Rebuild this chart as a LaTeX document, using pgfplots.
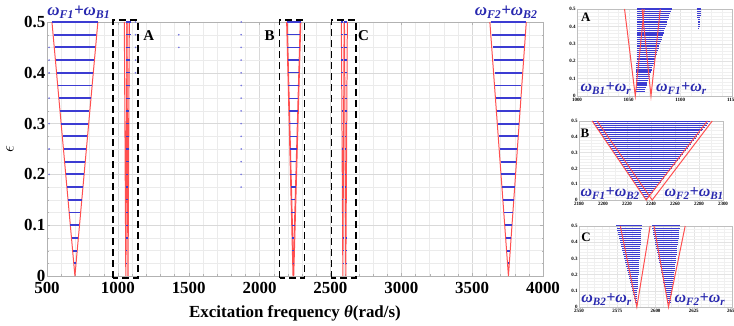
\documentclass[border=0pt]{standalone}
\usepackage{pgfplots}
\pgfplotsset{compat=1.18}
\usepackage{pgfplotstable}
\usepackage{fontspec}
\setmainfont{Liberation Serif}
\definecolor{myblue}{RGB}{60,60,210}
\definecolor{myred}{RGB}{255,80,80}
\definecolor{labblue}{RGB}{40,40,175}

\pgfplotstableread{
y x h
0.5 697 160
0.475 697 150
0.45 697 142
0.425 697 134
0.4 697 126
0.375 697 118
0.35 697 110
0.325 697 102
0.3 697 95
0.275 697 87
0.25 697 79
0.225 697 71
0.2 697 63
0.175 697 55
0.15 697 47
0.125 697 39
0.1 697 32
0.075 697 24
0.05 697 16
0.025 697 8
}\tabTone

\pgfplotstableread{
y x h
0.5 3756 125
0.475 3756 116
0.45 3756 110
0.425 3756 104
0.4 3756 98
0.375 3756 92
0.35 3756 86
0.325 3756 80
0.3 3756 74
0.275 3756 67
0.25 3756 61
0.225 3756 55
0.2 3756 49
0.175 3756 43
0.15 3756 37
0.125 3756 31
0.1 3756 25
0.075 3756 18
0.05 3756 12
0.025 3756 6
}\tabTtwo

\pgfplotstableread{
y x h
0.5 1075.0 16.5
0.4875 1074.64 16.18
0.475 1074.28 15.85
0.4625 1073.91 15.53
0.45 1073.55 15.2
0.4375 1073.19 14.88
0.425 1072.83 14.55
0.4125 1072.46 14.23
0.4 1072.1 13.9
0.3875 1071.74 13.58
0.375 1071.38 13.25
0.3625 1071.01 12.93
0.35 1070.65 12.6
0.3375 1070.29 12.28
0.325 1069.93 11.95
0.3125 1069.56 11.63
0.3 1069.2 11.3
0.2875 1068.84 10.98
0.275 1068.48 10.65
0.2625 1068.11 10.33
0.25 1067.75 10.0
0.2375 1067.39 9.68
0.225 1067.03 9.35
0.2125 1066.66 9.03
0.2 1066.3 8.7
0.1875 1065.94 8.38
0.175 1065.58 8.05
0.1625 1065.21 7.73
0.15 1064.85 7.4
0.1375 1064.49 7.08
0.125 1064.13 6.75
0.1125 1063.76 6.43
0.1 1063.4 6.1
0.0875 1063.04 5.78
0.075 1062.68 5.45
0.0625 1062.31 5.13
0.05 1061.95 4.8
0.0375 1061.59 4.48
0.025 1061.23 4.15
}\tabA

\pgfplotstableread{
y x h
0.5 1118 2.2
0.4875 1118 2.0
0.475 1118 1.8
0.4625 1118 1.6
0.45 1118 1.4
0.4375 1118 1.2
0.425 1118 1.0
0.4125 1118 0.8
0.4 1118 0.6
0.3875 1118 0.5
}\tabAdots

\pgfplotstableread{
y x h
0.5 2240 49
0.4875 2239.9 47.78
0.475 2239.8 46.55
0.4625 2239.7 45.33
0.45 2239.6 44.1
0.4375 2239.5 42.88
0.425 2239.4 41.65
0.4125 2239.3 40.43
0.4 2239.2 39.2
0.3875 2239.1 37.98
0.375 2239.0 36.75
0.3625 2238.9 35.53
0.35 2238.8 34.3
0.3375 2238.7 33.08
0.325 2238.6 31.85
0.3125 2238.5 30.63
0.3 2238.4 29.4
0.2875 2238.3 28.18
0.275 2238.2 26.95
0.2625 2238.1 25.73
0.25 2238.0 24.5
0.2375 2237.9 23.28
0.225 2237.8 22.05
0.2125 2237.7 20.83
0.2 2237.6 19.6
0.1875 2237.5 18.38
0.175 2237.4 17.15
0.1625 2237.3 15.93
0.15 2237.2 14.7
0.1375 2237.1 13.48
0.125 2237.0 12.25
0.1125 2236.9 11.03
0.1 2236.8 9.8
0.0875 2236.7 8.58
0.075 2236.6 7.35
0.0625 2236.5 6.13
0.05 2236.4 4.9
0.0375 2236.3 3.68
0.025 2236.2 2.45
0.0125 2236.1 1.23
}\tabB

\pgfplotstableread{
y x h
0.5 2582.75 8.25
0.4875 2582.87 8.04
0.475 2582.99 7.84
0.4625 2583.11 7.63
0.45 2583.23 7.43
0.4375 2583.34 7.22
0.425 2583.46 7.01
0.4125 2583.58 6.81
0.4 2583.7 6.6
0.3875 2583.82 6.39
0.375 2583.94 6.19
0.3625 2584.06 5.98
0.35 2584.18 5.78
0.3375 2584.29 5.57
0.325 2584.41 5.36
0.3125 2584.53 5.16
0.3 2584.65 4.95
0.2875 2584.77 4.74
0.275 2584.89 4.54
0.2625 2585.01 4.33
0.25 2585.13 4.13
0.2375 2585.24 3.92
0.225 2585.36 3.71
0.2125 2585.48 3.51
0.2 2585.6 3.3
0.1875 2585.72 3.09
0.175 2585.84 2.89
0.1625 2585.96 2.68
0.15 2586.08 2.48
0.1375 2586.19 2.27
0.125 2586.31 2.06
0.1125 2586.43 1.86
0.1 2586.55 1.65
0.0875 2586.67 1.44
0.075 2586.79 1.24
0.0625 2586.91 1.03
0.05 2587.03 0.83
0.0375 2587.14 0.62
0.025 2587.26 0.41
}\tabCone

\pgfplotstableread{
y x h
0.5 2606.75 9.25
0.4875 2606.81 9.03
0.475 2606.86 8.81
0.4625 2606.92 8.59
0.45 2606.98 8.38
0.4375 2607.03 8.16
0.425 2607.09 7.94
0.4125 2607.14 7.72
0.4 2607.2 7.5
0.3875 2607.26 7.28
0.375 2607.31 7.06
0.3625 2607.37 6.84
0.35 2607.43 6.63
0.3375 2607.48 6.41
0.325 2607.54 6.19
0.3125 2607.59 5.97
0.3 2607.65 5.75
0.2875 2607.71 5.53
0.275 2607.76 5.31
0.2625 2607.82 5.09
0.25 2607.88 4.88
0.2375 2607.93 4.66
0.225 2607.99 4.44
0.2125 2608.04 4.22
0.2 2608.1 4.0
0.1875 2608.16 3.78
0.175 2608.21 3.56
0.1625 2608.27 3.34
0.15 2608.33 3.13
0.1375 2608.38 2.91
0.125 2608.44 2.69
0.1125 2608.49 2.47
0.1 2608.55 2.25
0.0875 2608.61 2.03
0.075 2608.66 1.81
0.0625 2608.72 1.59
0.05 2608.78 1.38
0.0375 2608.83 1.16
0.025 2608.89 0.94
}\tabCtwo

\pgfplotsset{
  hbars/.style={myblue, line width=#1, mark=none, forget plot,
    quiver={u=2*\thisrow{h}, v=0}, -},
  redl/.style={myred, line width=#1, mark=none, forget plot},
  inset/.style={scale only axis, anchor=south west, clip=false,
    ymin=0, ymax=0.5, ytick={0,0.1,0.2,0.3,0.4,0.5},
    grid=both, major grid style={gray!22, line width=0.3pt},
    minor grid style={gray!12, line width=0.25pt},
    axis line style={gray!50}, tick style={draw=none},
    minor y tick num=4,
    /pgf/number format/assume math mode=true, /pgf/number format/1000 sep={},
    ticklabel style={font=\bfseries\fontsize{5}{6}\selectfont},
    yticklabel style={inner sep=1.2bp}, xticklabel style={inner sep=2bp}},
}
\tikzset{
  ilab/.style={labblue, anchor=base, inner sep=0pt, font=\bfseries\itshape\fontsize{16}{17}\selectfont},
}

\begin{document}
\begin{tikzpicture}
\path[use as bounding box] (0,0) rectangle (734bp,326bp);
\begin{axis}[
  at={(47bp,50bp)}, anchor=south west, scale only axis,
  width=496bp, height=254bp, clip=false,
  xmin=500, xmax=4000, ymin=0, ymax=0.5,
  xtick={500,1000,1500,2000,2500,3000,3500,4000},
  ytick={0,0.1,0.2,0.3,0.4,0.5},
  minor x tick num=4, minor y tick num=3,
  grid=both, major grid style={gray!30, line width=0.4pt},
  minor grid style={gray!16, line width=0.3pt},
  axis line style={gray!60}, tick style={gray!60}, tick align=inside,
  major tick length=3bp, minor tick length=1.5bp,
  /pgf/number format/assume math mode=true, /pgf/number format/1000 sep={},
  ticklabel style={font=\bfseries\fontsize{17}{18}\selectfont},
  yticklabel style={inner sep=1.5bp}, xticklabel style={inner sep=6bp},
  xlabel={Excitation frequency {\itshape θ}(rad/s)},
  xlabel style={at={(axis description cs:0.5,0)}, anchor=base, yshift=-41bp,
    font=\bfseries\fontsize{17}{18}\selectfont},
  ylabel={$\epsilon$},
  ylabel style={at={(axis description cs:-0.0746,0.5)}, anchor=center,
    font=\fontsize{17}{18}\selectfont},
]
% red boundaries
\addplot[redl=1pt] coordinates {(535,0.5) (697,0) (859,0.5)};
\addplot[redl=1pt] coordinates {(3625,0.5) (3756,0) (3882,0.5)};
\addplot[redl=1.1pt] coordinates {(1046,0.5) (1056.4,0) (1065,0.5)};
\addplot[redl=1.1pt] coordinates {(1063,0.5) (1071.6,0) (1080.6,0.5)};
\addplot[redl=1pt] coordinates {(2191,0.5) (2236,0) (2287,0.5)};
\addplot[redl=1pt] coordinates {(2195,0.5) (2241,0) (2291,0.5)};
\addplot[redl=1pt] coordinates {(2577,0.5) (2587.8,0) (2596.5,0.5)};
\addplot[redl=1pt] coordinates {(2599,0.5) (2608.5,0) (2619.4,0.5)};
% blue instability rows
\addplot[hbars=2pt] table[x expr=\thisrow{x}-\thisrow{h}, y=y] {\tabTone};
\addplot[hbars=2pt] table[x expr=\thisrow{x}-\thisrow{h}, y=y] {\tabTtwo};
\addplot[each nth point=2, hbars=1.4pt] table[x expr=\thisrow{x}-\thisrow{h}, y=y] {\tabA};
\addplot[each nth point=2, hbars=1.4pt] table[x expr=\thisrow{x}-\thisrow{h}, y=y] {\tabB};
\addplot[each nth point=2, hbars=1.4pt] table[x expr=\thisrow{x}-\thisrow{h}, y=y] {\tabCone};
\addplot[each nth point=2, hbars=1.4pt] table[x expr=\thisrow{x}-\thisrow{h}, y=y] {\tabCtwo};
% scattered small points
\addplot[only marks, mark=*, mark size=0.6pt, myblue!70, forget plot] coordinates {
(1870,0.5) (1870,0.475) (1870,0.45) (1870,0.425) (1870,0.4) (1870,0.375)
(1870,0.35) (1870,0.325) (1870,0.3) (1870,0.275) (1870,0.25) (1870,0.225)
(1870,0.2) (1870,0.175)
(515,0.45) (515,0.425) (515,0.4) (515,0.35) (515,0.3) (515,0.25) (515,0.2)
(1430,0.475) (1430,0.45) (1125,0.5) (1125,0.475) (1125,0.45) (1125,0.425) (1125,0.4)};
% dashed boxes
\draw[black, line width=1.8pt, dash pattern=on 7bp off 4bp] (axis cs:965,-0.004) rectangle (axis cs:1141,0.504);
\draw[black, line width=1.8pt, dash pattern=on 7bp off 4bp] (axis cs:2141,-0.004) rectangle (axis cs:2317,0.504);
\draw[black, line width=1.8pt, dash pattern=on 7bp off 4bp] (axis cs:2507,-0.004) rectangle (axis cs:2683,0.504);
\node[font=\bfseries\fontsize{15}{16}\selectfont] at (axis cs:1218,0.474) {A};
\node[font=\bfseries\fontsize{15}{16}\selectfont] at (axis cs:2070,0.474) {B};
\node[font=\bfseries\fontsize{15}{16}\selectfont] at (axis cs:2733,0.474) {C};
\node[ilab, font=\bfseries\itshape\fontsize{17}{18}\selectfont] at (axis cs:725,0.512) {ω\textsubscript{F1}+ω\textsubscript{B1}};
\node[ilab, font=\bfseries\itshape\fontsize{17}{18}\selectfont] at (axis cs:3740,0.512) {ω\textsubscript{F2}+ω\textsubscript{B2}};
\end{axis}

% Inset A
\begin{axis}[inset, at={(577bp,230bp)}, width=155bp, height=87bp,
  xmin=1000, xmax=1150, xtick={1000,1050,1100,1150}, minor x tick num=4]
\addplot[hbars=1.25pt] table[x expr=\thisrow{x}-\thisrow{h}, y=y] {\tabA};
\addplot[hbars=1.25pt] table[x expr=\thisrow{x}-\thisrow{h}, y=y] {\tabAdots};
\addplot[redl=1pt] coordinates {(1046,0.5) (1056.4,0) (1065,0.5)};
\addplot[redl=1pt] coordinates {(1063,0.5) (1071.6,0) (1080.6,0.5)};
\node[font=\bfseries\fontsize{13}{14}\selectfont] at (axis cs:1008.5,0.451) {A};
\node[ilab] at (axis cs:1028,0.023) {ω\textsubscript{B1}+ω\textsubscript{r}};
\node[ilab] at (axis cs:1101,0.023) {ω\textsubscript{F1}+ω\textsubscript{r}};
\end{axis}

% Inset B
\begin{axis}[inset, at={(579bp,126bp)}, width=144bp, height=79bp,
  xmin=2180, xmax=2300, xtick={2180,2200,2220,2240,2260,2280,2300}, minor x tick num=1]
\addplot[hbars=0.8pt] table[x expr=\thisrow{x}-\thisrow{h}, y=y] {\tabB};
\addplot[redl=1pt] coordinates {(2191,0.5) (2236,0) (2287,0.5)};
\addplot[redl=1pt] coordinates {(2195,0.5) (2241,0) (2291,0.5)};
\node[font=\bfseries\fontsize{13}{14}\selectfont] at (axis cs:2185,0.424) {B};
\node[ilab] at (axis cs:2206,0.019) {ω\textsubscript{F1}+ω\textsubscript{B2}};
\node[ilab] at (axis cs:2276,0.019) {ω\textsubscript{F2}+ω\textsubscript{B1}};
\end{axis}

% Inset C
\begin{axis}[inset, at={(579bp,19bp)}, width=153bp, height=81bp,
  xmin=2550, xmax=2650, xtick={2550,2575,2600,2625,2650}, minor x tick num=4]
\addplot[hbars=1pt] table[x expr=\thisrow{x}-\thisrow{h}, y=y] {\tabCone};
\addplot[hbars=1pt] table[x expr=\thisrow{x}-\thisrow{h}, y=y] {\tabCtwo};
\addplot[redl=1pt] coordinates {(2577,0.5) (2587.8,0) (2596.5,0.5)};
\addplot[redl=1pt] coordinates {(2599,0.5) (2608.5,0) (2619.4,0.5)};
\node[font=\bfseries\fontsize{13}{14}\selectfont] at (axis cs:2554.6,0.432) {C};
\node[ilab] at (axis cs:2568,0.025) {ω\textsubscript{B2}+ω\textsubscript{r}};
\node[ilab] at (axis cs:2629,0.025) {ω\textsubscript{F2}+ω\textsubscript{r}};
\end{axis}
\end{tikzpicture}
\end{document}
